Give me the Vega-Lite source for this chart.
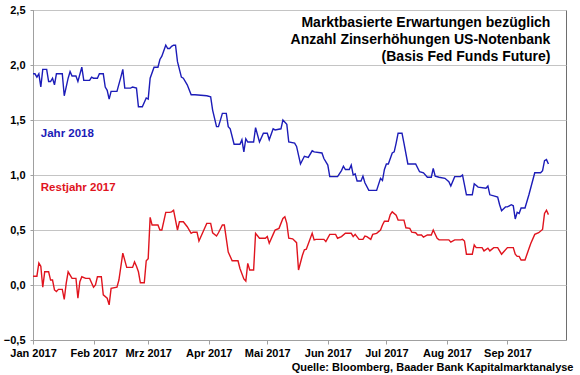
{
  "$schema": "https://vega.github.io/schema/vega-lite/v6.json",
  "width": 533,
  "height": 330,
  "autosize": "none",
  "padding": {"left": 33, "top": 10, "right": 14, "bottom": 35},
  "background": "white",
  "config": {
    "font": "Liberation Sans",
    "view": {"stroke": "#6e6e6e", "strokeWidth": 1}
  },
  "datasets": {
    "series": [
      {"date": "2017-01-01", "value": 1.92, "series": "Jahr 2018"},
      {"date": "2017-01-02", "value": 1.92, "series": "Jahr 2018"},
      {"date": "2017-01-03", "value": 1.89, "series": "Jahr 2018"},
      {"date": "2017-01-04", "value": 1.92, "series": "Jahr 2018"},
      {"date": "2017-01-05", "value": 1.80, "series": "Jahr 2018"},
      {"date": "2017-01-06", "value": 1.96, "series": "Jahr 2018"},
      {"date": "2017-01-08", "value": 1.96, "series": "Jahr 2018"},
      {"date": "2017-01-09", "value": 1.85, "series": "Jahr 2018"},
      {"date": "2017-01-10", "value": 1.85, "series": "Jahr 2018"},
      {"date": "2017-01-11", "value": 1.88, "series": "Jahr 2018"},
      {"date": "2017-01-12", "value": 1.82, "series": "Jahr 2018"},
      {"date": "2017-01-13", "value": 1.92, "series": "Jahr 2018"},
      {"date": "2017-01-16", "value": 1.92, "series": "Jahr 2018"},
      {"date": "2017-01-17", "value": 1.72, "series": "Jahr 2018"},
      {"date": "2017-01-19", "value": 1.88, "series": "Jahr 2018"},
      {"date": "2017-01-20", "value": 1.94, "series": "Jahr 2018"},
      {"date": "2017-01-21", "value": 1.90, "series": "Jahr 2018"},
      {"date": "2017-01-23", "value": 1.90, "series": "Jahr 2018"},
      {"date": "2017-01-24", "value": 1.85, "series": "Jahr 2018"},
      {"date": "2017-01-26", "value": 1.98, "series": "Jahr 2018"},
      {"date": "2017-01-27", "value": 1.86, "series": "Jahr 2018"},
      {"date": "2017-01-30", "value": 1.86, "series": "Jahr 2018"},
      {"date": "2017-01-31", "value": 1.89, "series": "Jahr 2018"},
      {"date": "2017-02-01", "value": 1.88, "series": "Jahr 2018"},
      {"date": "2017-02-03", "value": 1.88, "series": "Jahr 2018"},
      {"date": "2017-02-04", "value": 1.92, "series": "Jahr 2018"},
      {"date": "2017-02-06", "value": 1.92, "series": "Jahr 2018"},
      {"date": "2017-02-07", "value": 1.80, "series": "Jahr 2018"},
      {"date": "2017-02-08", "value": 1.77, "series": "Jahr 2018"},
      {"date": "2017-02-09", "value": 1.69, "series": "Jahr 2018"},
      {"date": "2017-02-10", "value": 1.76, "series": "Jahr 2018"},
      {"date": "2017-02-13", "value": 1.76, "series": "Jahr 2018"},
      {"date": "2017-02-15", "value": 1.89, "series": "Jahr 2018"},
      {"date": "2017-02-16", "value": 1.96, "series": "Jahr 2018"},
      {"date": "2017-02-17", "value": 1.79, "series": "Jahr 2018"},
      {"date": "2017-02-20", "value": 1.79, "series": "Jahr 2018"},
      {"date": "2017-02-21", "value": 1.80, "series": "Jahr 2018"},
      {"date": "2017-02-23", "value": 1.79, "series": "Jahr 2018"},
      {"date": "2017-02-24", "value": 1.62, "series": "Jahr 2018"},
      {"date": "2017-02-26", "value": 1.62, "series": "Jahr 2018"},
      {"date": "2017-02-28", "value": 1.70, "series": "Jahr 2018"},
      {"date": "2017-03-01", "value": 1.69, "series": "Jahr 2018"},
      {"date": "2017-03-02", "value": 1.88, "series": "Jahr 2018"},
      {"date": "2017-03-04", "value": 1.98, "series": "Jahr 2018"},
      {"date": "2017-03-06", "value": 1.98, "series": "Jahr 2018"},
      {"date": "2017-03-07", "value": 2.05, "series": "Jahr 2018"},
      {"date": "2017-03-08", "value": 2.08, "series": "Jahr 2018"},
      {"date": "2017-03-10", "value": 2.18, "series": "Jahr 2018"},
      {"date": "2017-03-11", "value": 2.15, "series": "Jahr 2018"},
      {"date": "2017-03-12", "value": 2.15, "series": "Jahr 2018"},
      {"date": "2017-03-13", "value": 2.17, "series": "Jahr 2018"},
      {"date": "2017-03-14", "value": 2.18, "series": "Jahr 2018"},
      {"date": "2017-03-15", "value": 2.18, "series": "Jahr 2018"},
      {"date": "2017-03-16", "value": 2.03, "series": "Jahr 2018"},
      {"date": "2017-03-18", "value": 1.89, "series": "Jahr 2018"},
      {"date": "2017-03-19", "value": 1.88, "series": "Jahr 2018"},
      {"date": "2017-03-21", "value": 1.82, "series": "Jahr 2018"},
      {"date": "2017-03-23", "value": 1.73, "series": "Jahr 2018"},
      {"date": "2017-03-25", "value": 1.73, "series": "Jahr 2018"},
      {"date": "2017-03-31", "value": 1.72, "series": "Jahr 2018"},
      {"date": "2017-04-02", "value": 1.71, "series": "Jahr 2018"},
      {"date": "2017-04-03", "value": 1.59, "series": "Jahr 2018"},
      {"date": "2017-04-05", "value": 1.44, "series": "Jahr 2018"},
      {"date": "2017-04-06", "value": 1.44, "series": "Jahr 2018"},
      {"date": "2017-04-08", "value": 1.56, "series": "Jahr 2018"},
      {"date": "2017-04-10", "value": 1.56, "series": "Jahr 2018"},
      {"date": "2017-04-11", "value": 1.44, "series": "Jahr 2018"},
      {"date": "2017-04-12", "value": 1.42, "series": "Jahr 2018"},
      {"date": "2017-04-14", "value": 1.28, "series": "Jahr 2018"},
      {"date": "2017-04-17", "value": 1.28, "series": "Jahr 2018"},
      {"date": "2017-04-18", "value": 1.32, "series": "Jahr 2018"},
      {"date": "2017-04-19", "value": 1.21, "series": "Jahr 2018"},
      {"date": "2017-04-20", "value": 1.33, "series": "Jahr 2018"},
      {"date": "2017-04-21", "value": 1.30, "series": "Jahr 2018"},
      {"date": "2017-04-24", "value": 1.30, "series": "Jahr 2018"},
      {"date": "2017-04-25", "value": 1.43, "series": "Jahr 2018"},
      {"date": "2017-04-27", "value": 1.30, "series": "Jahr 2018"},
      {"date": "2017-04-29", "value": 1.38, "series": "Jahr 2018"},
      {"date": "2017-05-01", "value": 1.38, "series": "Jahr 2018"},
      {"date": "2017-05-02", "value": 1.32, "series": "Jahr 2018"},
      {"date": "2017-05-04", "value": 1.42, "series": "Jahr 2018"},
      {"date": "2017-05-05", "value": 1.41, "series": "Jahr 2018"},
      {"date": "2017-05-08", "value": 1.42, "series": "Jahr 2018"},
      {"date": "2017-05-09", "value": 1.50, "series": "Jahr 2018"},
      {"date": "2017-05-11", "value": 1.46, "series": "Jahr 2018"},
      {"date": "2017-05-12", "value": 1.30, "series": "Jahr 2018"},
      {"date": "2017-05-15", "value": 1.29, "series": "Jahr 2018"},
      {"date": "2017-05-16", "value": 1.26, "series": "Jahr 2018"},
      {"date": "2017-05-18", "value": 1.10, "series": "Jahr 2018"},
      {"date": "2017-05-20", "value": 1.17, "series": "Jahr 2018"},
      {"date": "2017-05-22", "value": 1.16, "series": "Jahr 2018"},
      {"date": "2017-05-24", "value": 1.22, "series": "Jahr 2018"},
      {"date": "2017-05-25", "value": 1.21, "series": "Jahr 2018"},
      {"date": "2017-05-29", "value": 1.20, "series": "Jahr 2018"},
      {"date": "2017-05-30", "value": 1.15, "series": "Jahr 2018"},
      {"date": "2017-06-01", "value": 1.09, "series": "Jahr 2018"},
      {"date": "2017-06-02", "value": 0.985, "series": "Jahr 2018"},
      {"date": "2017-06-06", "value": 0.985, "series": "Jahr 2018"},
      {"date": "2017-06-08", "value": 1.04, "series": "Jahr 2018"},
      {"date": "2017-06-09", "value": 1.08, "series": "Jahr 2018"},
      {"date": "2017-06-10", "value": 1.05, "series": "Jahr 2018"},
      {"date": "2017-06-12", "value": 1.05, "series": "Jahr 2018"},
      {"date": "2017-06-13", "value": 1.09, "series": "Jahr 2018"},
      {"date": "2017-06-14", "value": 1.00, "series": "Jahr 2018"},
      {"date": "2017-06-15", "value": 1.01, "series": "Jahr 2018"},
      {"date": "2017-06-16", "value": 0.945, "series": "Jahr 2018"},
      {"date": "2017-06-18", "value": 0.945, "series": "Jahr 2018"},
      {"date": "2017-06-19", "value": 0.99, "series": "Jahr 2018"},
      {"date": "2017-06-20", "value": 0.93, "series": "Jahr 2018"},
      {"date": "2017-06-22", "value": 0.86, "series": "Jahr 2018"},
      {"date": "2017-06-26", "value": 0.86, "series": "Jahr 2018"},
      {"date": "2017-06-28", "value": 0.97, "series": "Jahr 2018"},
      {"date": "2017-06-29", "value": 0.95, "series": "Jahr 2018"},
      {"date": "2017-06-30", "value": 1.05, "series": "Jahr 2018"},
      {"date": "2017-07-01", "value": 1.10, "series": "Jahr 2018"},
      {"date": "2017-07-02", "value": 1.10, "series": "Jahr 2018"},
      {"date": "2017-07-04", "value": 1.20, "series": "Jahr 2018"},
      {"date": "2017-07-05", "value": 1.21, "series": "Jahr 2018"},
      {"date": "2017-07-06", "value": 1.29, "series": "Jahr 2018"},
      {"date": "2017-07-07", "value": 1.38, "series": "Jahr 2018"},
      {"date": "2017-07-09", "value": 1.38, "series": "Jahr 2018"},
      {"date": "2017-07-10", "value": 1.29, "series": "Jahr 2018"},
      {"date": "2017-07-12", "value": 1.10, "series": "Jahr 2018"},
      {"date": "2017-07-16", "value": 1.10, "series": "Jahr 2018"},
      {"date": "2017-07-18", "value": 1.03, "series": "Jahr 2018"},
      {"date": "2017-07-20", "value": 1.02, "series": "Jahr 2018"},
      {"date": "2017-07-22", "value": 0.98, "series": "Jahr 2018"},
      {"date": "2017-07-24", "value": 0.98, "series": "Jahr 2018"},
      {"date": "2017-07-25", "value": 1.06, "series": "Jahr 2018"},
      {"date": "2017-07-26", "value": 0.99, "series": "Jahr 2018"},
      {"date": "2017-07-28", "value": 0.98, "series": "Jahr 2018"},
      {"date": "2017-07-31", "value": 0.97, "series": "Jahr 2018"},
      {"date": "2017-08-02", "value": 0.94, "series": "Jahr 2018"},
      {"date": "2017-08-03", "value": 0.90, "series": "Jahr 2018"},
      {"date": "2017-08-05", "value": 0.985, "series": "Jahr 2018"},
      {"date": "2017-08-08", "value": 0.985, "series": "Jahr 2018"},
      {"date": "2017-08-09", "value": 1.00, "series": "Jahr 2018"},
      {"date": "2017-08-10", "value": 0.91, "series": "Jahr 2018"},
      {"date": "2017-08-11", "value": 0.82, "series": "Jahr 2018"},
      {"date": "2017-08-14", "value": 0.82, "series": "Jahr 2018"},
      {"date": "2017-08-15", "value": 0.92, "series": "Jahr 2018"},
      {"date": "2017-08-17", "value": 0.89, "series": "Jahr 2018"},
      {"date": "2017-08-21", "value": 0.88, "series": "Jahr 2018"},
      {"date": "2017-08-22", "value": 0.90, "series": "Jahr 2018"},
      {"date": "2017-08-23", "value": 0.82, "series": "Jahr 2018"},
      {"date": "2017-08-25", "value": 0.81, "series": "Jahr 2018"},
      {"date": "2017-08-27", "value": 0.80, "series": "Jahr 2018"},
      {"date": "2017-08-28", "value": 0.73, "series": "Jahr 2018"},
      {"date": "2017-08-29", "value": 0.675, "series": "Jahr 2018"},
      {"date": "2017-08-31", "value": 0.71, "series": "Jahr 2018"},
      {"date": "2017-09-01", "value": 0.71, "series": "Jahr 2018"},
      {"date": "2017-09-03", "value": 0.73, "series": "Jahr 2018"},
      {"date": "2017-09-04", "value": 0.72, "series": "Jahr 2018"},
      {"date": "2017-09-05", "value": 0.60, "series": "Jahr 2018"},
      {"date": "2017-09-06", "value": 0.66, "series": "Jahr 2018"},
      {"date": "2017-09-07", "value": 0.65, "series": "Jahr 2018"},
      {"date": "2017-09-08", "value": 0.70, "series": "Jahr 2018"},
      {"date": "2017-09-10", "value": 0.70, "series": "Jahr 2018"},
      {"date": "2017-09-12", "value": 0.82, "series": "Jahr 2018"},
      {"date": "2017-09-15", "value": 1.02, "series": "Jahr 2018"},
      {"date": "2017-09-18", "value": 1.02, "series": "Jahr 2018"},
      {"date": "2017-09-19", "value": 1.04, "series": "Jahr 2018"},
      {"date": "2017-09-20", "value": 1.13, "series": "Jahr 2018"},
      {"date": "2017-09-21", "value": 1.14, "series": "Jahr 2018"},
      {"date": "2017-09-22", "value": 1.10, "series": "Jahr 2018"},

      {"date": "2017-01-01", "value": 0.08, "series": "Restjahr 2017"},
      {"date": "2017-01-03", "value": 0.08, "series": "Restjahr 2017"},
      {"date": "2017-01-04", "value": 0.20, "series": "Restjahr 2017"},
      {"date": "2017-01-05", "value": 0.17, "series": "Restjahr 2017"},
      {"date": "2017-01-06", "value": -0.02, "series": "Restjahr 2017"},
      {"date": "2017-01-07", "value": 0.12, "series": "Restjahr 2017"},
      {"date": "2017-01-09", "value": 0.12, "series": "Restjahr 2017"},
      {"date": "2017-01-10", "value": 0.045, "series": "Restjahr 2017"},
      {"date": "2017-01-11", "value": 0.045, "series": "Restjahr 2017"},
      {"date": "2017-01-12", "value": -0.045, "series": "Restjahr 2017"},
      {"date": "2017-01-13", "value": -0.06, "series": "Restjahr 2017"},
      {"date": "2017-01-14", "value": -0.04, "series": "Restjahr 2017"},
      {"date": "2017-01-16", "value": -0.04, "series": "Restjahr 2017"},
      {"date": "2017-01-17", "value": -0.13, "series": "Restjahr 2017"},
      {"date": "2017-01-18", "value": 0.015, "series": "Restjahr 2017"},
      {"date": "2017-01-19", "value": 0.12, "series": "Restjahr 2017"},
      {"date": "2017-01-21", "value": 0.06, "series": "Restjahr 2017"},
      {"date": "2017-01-23", "value": 0.06, "series": "Restjahr 2017"},
      {"date": "2017-01-24", "value": -0.12, "series": "Restjahr 2017"},
      {"date": "2017-01-25", "value": 0.03, "series": "Restjahr 2017"},
      {"date": "2017-01-26", "value": 0.075, "series": "Restjahr 2017"},
      {"date": "2017-01-28", "value": 0.06, "series": "Restjahr 2017"},
      {"date": "2017-01-30", "value": 0.06, "series": "Restjahr 2017"},
      {"date": "2017-02-01", "value": -0.02, "series": "Restjahr 2017"},
      {"date": "2017-02-02", "value": 0.00, "series": "Restjahr 2017"},
      {"date": "2017-02-03", "value": 0.075, "series": "Restjahr 2017"},
      {"date": "2017-02-05", "value": 0.075, "series": "Restjahr 2017"},
      {"date": "2017-02-06", "value": -0.09, "series": "Restjahr 2017"},
      {"date": "2017-02-08", "value": -0.12, "series": "Restjahr 2017"},
      {"date": "2017-02-09", "value": -0.18, "series": "Restjahr 2017"},
      {"date": "2017-02-10", "value": -0.03, "series": "Restjahr 2017"},
      {"date": "2017-02-13", "value": -0.02, "series": "Restjahr 2017"},
      {"date": "2017-02-14", "value": 0.045, "series": "Restjahr 2017"},
      {"date": "2017-02-16", "value": 0.29, "series": "Restjahr 2017"},
      {"date": "2017-02-18", "value": 0.16, "series": "Restjahr 2017"},
      {"date": "2017-02-21", "value": 0.16, "series": "Restjahr 2017"},
      {"date": "2017-02-22", "value": 0.21, "series": "Restjahr 2017"},
      {"date": "2017-02-23", "value": 0.17, "series": "Restjahr 2017"},
      {"date": "2017-02-24", "value": 0.12, "series": "Restjahr 2017"},
      {"date": "2017-02-25", "value": 0.02, "series": "Restjahr 2017"},
      {"date": "2017-02-27", "value": 0.02, "series": "Restjahr 2017"},
      {"date": "2017-02-28", "value": 0.22, "series": "Restjahr 2017"},
      {"date": "2017-03-01", "value": 0.24, "series": "Restjahr 2017"},
      {"date": "2017-03-02", "value": 0.615, "series": "Restjahr 2017"},
      {"date": "2017-03-03", "value": 0.545, "series": "Restjahr 2017"},
      {"date": "2017-03-06", "value": 0.545, "series": "Restjahr 2017"},
      {"date": "2017-03-07", "value": 0.50, "series": "Restjahr 2017"},
      {"date": "2017-03-08", "value": 0.50, "series": "Restjahr 2017"},
      {"date": "2017-03-10", "value": 0.66, "series": "Restjahr 2017"},
      {"date": "2017-03-12", "value": 0.66, "series": "Restjahr 2017"},
      {"date": "2017-03-13", "value": 0.665, "series": "Restjahr 2017"},
      {"date": "2017-03-14", "value": 0.68, "series": "Restjahr 2017"},
      {"date": "2017-03-16", "value": 0.50, "series": "Restjahr 2017"},
      {"date": "2017-03-17", "value": 0.575, "series": "Restjahr 2017"},
      {"date": "2017-03-19", "value": 0.575, "series": "Restjahr 2017"},
      {"date": "2017-03-21", "value": 0.53, "series": "Restjahr 2017"},
      {"date": "2017-03-23", "value": 0.47, "series": "Restjahr 2017"},
      {"date": "2017-03-24", "value": 0.48, "series": "Restjahr 2017"},
      {"date": "2017-03-26", "value": 0.48, "series": "Restjahr 2017"},
      {"date": "2017-03-27", "value": 0.40, "series": "Restjahr 2017"},
      {"date": "2017-03-29", "value": 0.48, "series": "Restjahr 2017"},
      {"date": "2017-03-31", "value": 0.56, "series": "Restjahr 2017"},
      {"date": "2017-04-02", "value": 0.56, "series": "Restjahr 2017"},
      {"date": "2017-04-03", "value": 0.475, "series": "Restjahr 2017"},
      {"date": "2017-04-05", "value": 0.445, "series": "Restjahr 2017"},
      {"date": "2017-04-06", "value": 0.475, "series": "Restjahr 2017"},
      {"date": "2017-04-08", "value": 0.545, "series": "Restjahr 2017"},
      {"date": "2017-04-09", "value": 0.545, "series": "Restjahr 2017"},
      {"date": "2017-04-11", "value": 0.30, "series": "Restjahr 2017"},
      {"date": "2017-04-13", "value": 0.22, "series": "Restjahr 2017"},
      {"date": "2017-04-16", "value": 0.22, "series": "Restjahr 2017"},
      {"date": "2017-04-17", "value": 0.15, "series": "Restjahr 2017"},
      {"date": "2017-04-19", "value": 0.055, "series": "Restjahr 2017"},
      {"date": "2017-04-20", "value": 0.036, "series": "Restjahr 2017"},
      {"date": "2017-04-21", "value": 0.197, "series": "Restjahr 2017"},
      {"date": "2017-04-22", "value": 0.136, "series": "Restjahr 2017"},
      {"date": "2017-04-24", "value": 0.136, "series": "Restjahr 2017"},
      {"date": "2017-04-25", "value": 0.47, "series": "Restjahr 2017"},
      {"date": "2017-04-27", "value": 0.425, "series": "Restjahr 2017"},
      {"date": "2017-04-30", "value": 0.425, "series": "Restjahr 2017"},
      {"date": "2017-05-01", "value": 0.44, "series": "Restjahr 2017"},
      {"date": "2017-05-02", "value": 0.38, "series": "Restjahr 2017"},
      {"date": "2017-05-04", "value": 0.46, "series": "Restjahr 2017"},
      {"date": "2017-05-05", "value": 0.50, "series": "Restjahr 2017"},
      {"date": "2017-05-07", "value": 0.515, "series": "Restjahr 2017"},
      {"date": "2017-05-09", "value": 0.605, "series": "Restjahr 2017"},
      {"date": "2017-05-10", "value": 0.62, "series": "Restjahr 2017"},
      {"date": "2017-05-11", "value": 0.56, "series": "Restjahr 2017"},
      {"date": "2017-05-12", "value": 0.425, "series": "Restjahr 2017"},
      {"date": "2017-05-14", "value": 0.42, "series": "Restjahr 2017"},
      {"date": "2017-05-16", "value": 0.385, "series": "Restjahr 2017"},
      {"date": "2017-05-17", "value": 0.136, "series": "Restjahr 2017"},
      {"date": "2017-05-19", "value": 0.27, "series": "Restjahr 2017"},
      {"date": "2017-05-20", "value": 0.32, "series": "Restjahr 2017"},
      {"date": "2017-05-21", "value": 0.325, "series": "Restjahr 2017"},
      {"date": "2017-05-24", "value": 0.47, "series": "Restjahr 2017"},
      {"date": "2017-05-25", "value": 0.41, "series": "Restjahr 2017"},
      {"date": "2017-05-26", "value": 0.415, "series": "Restjahr 2017"},
      {"date": "2017-05-30", "value": 0.415, "series": "Restjahr 2017"},
      {"date": "2017-05-31", "value": 0.395, "series": "Restjahr 2017"},
      {"date": "2017-06-02", "value": 0.46, "series": "Restjahr 2017"},
      {"date": "2017-06-05", "value": 0.46, "series": "Restjahr 2017"},
      {"date": "2017-06-06", "value": 0.425, "series": "Restjahr 2017"},
      {"date": "2017-06-08", "value": 0.44, "series": "Restjahr 2017"},
      {"date": "2017-06-10", "value": 0.47, "series": "Restjahr 2017"},
      {"date": "2017-06-13", "value": 0.47, "series": "Restjahr 2017"},
      {"date": "2017-06-14", "value": 0.44, "series": "Restjahr 2017"},
      {"date": "2017-06-15", "value": 0.46, "series": "Restjahr 2017"},
      {"date": "2017-06-17", "value": 0.415, "series": "Restjahr 2017"},
      {"date": "2017-06-19", "value": 0.415, "series": "Restjahr 2017"},
      {"date": "2017-06-20", "value": 0.445, "series": "Restjahr 2017"},
      {"date": "2017-06-21", "value": 0.44, "series": "Restjahr 2017"},
      {"date": "2017-06-23", "value": 0.415, "series": "Restjahr 2017"},
      {"date": "2017-06-24", "value": 0.46, "series": "Restjahr 2017"},
      {"date": "2017-06-26", "value": 0.47, "series": "Restjahr 2017"},
      {"date": "2017-06-28", "value": 0.50, "series": "Restjahr 2017"},
      {"date": "2017-06-29", "value": 0.545, "series": "Restjahr 2017"},
      {"date": "2017-06-30", "value": 0.58, "series": "Restjahr 2017"},
      {"date": "2017-07-02", "value": 0.58, "series": "Restjahr 2017"},
      {"date": "2017-07-03", "value": 0.64, "series": "Restjahr 2017"},
      {"date": "2017-07-04", "value": 0.665, "series": "Restjahr 2017"},
      {"date": "2017-07-06", "value": 0.635, "series": "Restjahr 2017"},
      {"date": "2017-07-07", "value": 0.59, "series": "Restjahr 2017"},
      {"date": "2017-07-10", "value": 0.59, "series": "Restjahr 2017"},
      {"date": "2017-07-11", "value": 0.52, "series": "Restjahr 2017"},
      {"date": "2017-07-13", "value": 0.515, "series": "Restjahr 2017"},
      {"date": "2017-07-14", "value": 0.48, "series": "Restjahr 2017"},
      {"date": "2017-07-16", "value": 0.475, "series": "Restjahr 2017"},
      {"date": "2017-07-17", "value": 0.455, "series": "Restjahr 2017"},
      {"date": "2017-07-19", "value": 0.455, "series": "Restjahr 2017"},
      {"date": "2017-07-20", "value": 0.435, "series": "Restjahr 2017"},
      {"date": "2017-07-22", "value": 0.455, "series": "Restjahr 2017"},
      {"date": "2017-07-24", "value": 0.455, "series": "Restjahr 2017"},
      {"date": "2017-07-25", "value": 0.50, "series": "Restjahr 2017"},
      {"date": "2017-07-27", "value": 0.425, "series": "Restjahr 2017"},
      {"date": "2017-07-28", "value": 0.41, "series": "Restjahr 2017"},
      {"date": "2017-08-02", "value": 0.41, "series": "Restjahr 2017"},
      {"date": "2017-08-03", "value": 0.39, "series": "Restjahr 2017"},
      {"date": "2017-08-05", "value": 0.41, "series": "Restjahr 2017"},
      {"date": "2017-08-08", "value": 0.41, "series": "Restjahr 2017"},
      {"date": "2017-08-09", "value": 0.415, "series": "Restjahr 2017"},
      {"date": "2017-08-10", "value": 0.40, "series": "Restjahr 2017"},
      {"date": "2017-08-11", "value": 0.28, "series": "Restjahr 2017"},
      {"date": "2017-08-14", "value": 0.28, "series": "Restjahr 2017"},
      {"date": "2017-08-15", "value": 0.365, "series": "Restjahr 2017"},
      {"date": "2017-08-16", "value": 0.34, "series": "Restjahr 2017"},
      {"date": "2017-08-19", "value": 0.34, "series": "Restjahr 2017"},
      {"date": "2017-08-20", "value": 0.31, "series": "Restjahr 2017"},
      {"date": "2017-08-22", "value": 0.335, "series": "Restjahr 2017"},
      {"date": "2017-08-23", "value": 0.31, "series": "Restjahr 2017"},
      {"date": "2017-08-25", "value": 0.34, "series": "Restjahr 2017"},
      {"date": "2017-08-27", "value": 0.34, "series": "Restjahr 2017"},
      {"date": "2017-08-29", "value": 0.28, "series": "Restjahr 2017"},
      {"date": "2017-08-30", "value": 0.30, "series": "Restjahr 2017"},
      {"date": "2017-09-01", "value": 0.34, "series": "Restjahr 2017"},
      {"date": "2017-09-04", "value": 0.34, "series": "Restjahr 2017"},
      {"date": "2017-09-05", "value": 0.28, "series": "Restjahr 2017"},
      {"date": "2017-09-06", "value": 0.26, "series": "Restjahr 2017"},
      {"date": "2017-09-07", "value": 0.26, "series": "Restjahr 2017"},
      {"date": "2017-09-08", "value": 0.227, "series": "Restjahr 2017"},
      {"date": "2017-09-10", "value": 0.227, "series": "Restjahr 2017"},
      {"date": "2017-09-12", "value": 0.33, "series": "Restjahr 2017"},
      {"date": "2017-09-13", "value": 0.38, "series": "Restjahr 2017"},
      {"date": "2017-09-15", "value": 0.46, "series": "Restjahr 2017"},
      {"date": "2017-09-17", "value": 0.475, "series": "Restjahr 2017"},
      {"date": "2017-09-19", "value": 0.505, "series": "Restjahr 2017"},
      {"date": "2017-09-20", "value": 0.65, "series": "Restjahr 2017"},
      {"date": "2017-09-21", "value": 0.68, "series": "Restjahr 2017"},
      {"date": "2017-09-22", "value": 0.64, "series": "Restjahr 2017"}
    ],
    "labels": [
      {"label": "Jahr 2018", "date": "2017-01-05", "value": 1.37},
      {"label": "Restjahr 2017", "date": "2017-01-05", "value": 0.88}
    ]
  },
  "layer": [
    {
      "data": {"name": "series"},
      "mark": {"type": "line", "strokeWidth": 1.4, "interpolate": "linear"},
      "encoding": {
        "x": {
          "field": "date",
          "type": "temporal",
          "scale": {
            "type": "utc",
            "domain": [
              {"year": 2017, "month": 1, "date": 1, "utc": true},
              {"year": 2017, "month": 10, "date": 1, "utc": true}
            ]
          },
          "axis": {
            "values": [
              {"year": 2017, "month": 1, "date": 1, "utc": true},
              {"year": 2017, "month": 2, "date": 1, "utc": true},
              {"year": 2017, "month": 3, "date": 1, "utc": true},
              {"year": 2017, "month": 4, "date": 1, "utc": true},
              {"year": 2017, "month": 5, "date": 1, "utc": true},
              {"year": 2017, "month": 6, "date": 1, "utc": true},
              {"year": 2017, "month": 7, "date": 1, "utc": true},
              {"year": 2017, "month": 8, "date": 1, "utc": true},
              {"year": 2017, "month": 9, "date": 1, "utc": true}
            ],
            "labelExpr": "['Jan','Feb','Mrz','Apr','Mai','Jun','Jul','Aug','Sep','Okt','Nov','Dez'][utcmonth(datum.value)] + ' ' + utcyear(datum.value)",
            "grid": false,
            "domainColor": "#a0a0a0",
            "tickColor": "#a0a0a0",
            "tickSize": 4,
            "labelFont": "Liberation Sans",
            "labelFontSize": 11,
            "labelFontWeight": "bold",
            "labelColor": "#000000",
            "labelPadding": 3,
            "labelAlign": "center",
            "labelFlush": false,
            "labelOverlap": false,
            "title": "Quelle: Bloomberg, Baader Bank Kapitalmarktanalyse",
            "titleFont": "Liberation Sans",
            "titleFontSize": 11,
            "titleFontWeight": "bold",
            "titleColor": "#000000",
            "titleAnchor": "end",
            "titleAlign": "right",
            "titleBaseline": "alphabetic",
            "titleX": 540,
            "titleY": 30
          }
        },
        "y": {
          "field": "value",
          "type": "quantitative",
          "scale": {"domain": [-0.5, 2.5], "nice": false, "zero": false},
          "axis": {
            "values": [-0.5, 0, 0.5, 1, 1.5, 2, 2.5],
            "labelExpr": "replace(format(datum.value, '.1f'), '.', ',')",
            "grid": true,
            "gridColor": "#c4c4c4",
            "gridWidth": 1,
            "domainColor": "#a0a0a0",
            "tickColor": "#a0a0a0",
            "tickSize": 3,
            "labelFont": "Liberation Sans",
            "labelFontSize": 11,
            "labelFontWeight": "bold",
            "labelColor": "#000000",
            "labelPadding": 5,
            "title": null
          }
        },
        "color": {
          "field": "series",
          "type": "nominal",
          "scale": {"domain": ["Jahr 2018", "Restjahr 2017"], "range": ["#1c1cb8", "#e0141e"]},
          "legend": null
        }
      }
    },
    {
      "data": {"name": "labels"},
      "mark": {"type": "text", "align": "left", "baseline": "middle", "font": "Liberation Sans", "fontSize": 11.5, "fontWeight": "bold"},
      "encoding": {
        "x": {"field": "date", "type": "temporal"},
        "y": {"field": "value", "type": "quantitative"},
        "text": {"field": "label"},
        "color": {"field": "label", "type": "nominal", "scale": {"domain": ["Jahr 2018", "Restjahr 2017"], "range": ["#1c1cb8", "#e0141e"]}, "legend": null}
      }
    },
    {
      "data": {"values": [{"t": 1}]},
      "mark": {"type": "text", "align": "right", "baseline": "alphabetic", "font": "Liberation Sans", "fontSize": 14, "fontWeight": "bold", "lineHeight": 17, "color": "#000000"},
      "encoding": {
        "x": {"datum": {"year": 2017, "month": 9, "date": 23, "utc": true}, "type": "temporal"},
        "y": {"datum": 2.345},
        "text": {"value": ["Marktbasierte Erwartungen bezüglich", "Anzahl Zinserhöhungen US-Notenbank", "(Basis Fed Funds Future)"]}
      }
    }
  ]
}
